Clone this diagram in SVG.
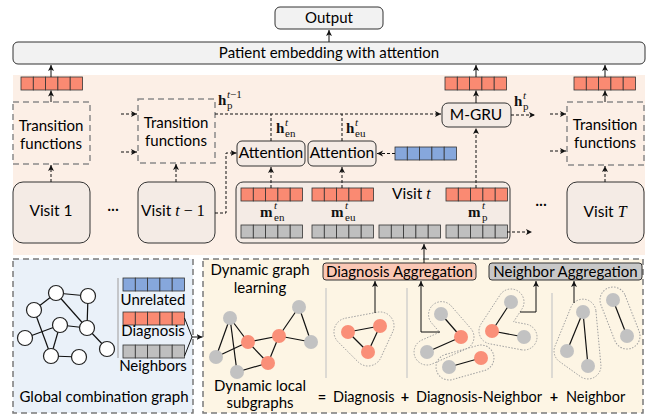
<svg xmlns="http://www.w3.org/2000/svg" width="654" height="418" viewBox="0 0 654 418">
<defs>
<style>
.lbl{font-family:Lato,'Liberation Sans','DejaVu Sans',sans-serif;font-size:15px;fill:#000}
.big{font-size:15.5px}
.mid{text-anchor:middle}
.mb{font-family:'Liberation Serif','DejaVu Serif',serif;font-weight:bold;font-size:15px;fill:#111}
.ms{font-family:'Liberation Serif','DejaVu Serif',serif;font-size:11px;fill:#111}
.mi{font-family:'Liberation Serif','DejaVu Serif',serif;font-style:italic}
.box{fill:#f2f2f2;stroke:#333;stroke-width:1}
.pbox{fill:#f4ebe5;stroke:#333;stroke-width:1}
.tbox{fill:none;stroke:#8a8a8a;stroke-width:1.5;stroke-dasharray:6 4}
.cr{fill:#fa8a72;stroke:#333;stroke-width:0.8}
.cb{fill:#86a7dc;stroke:#333;stroke-width:0.8}
.cg{fill:#bfbfbf;stroke:#333;stroke-width:0.8}
.a{fill:none;stroke:#111;stroke-width:1;marker-end:url(#ah)}
.d{fill:none;stroke:#111;stroke-width:1;stroke-dasharray:3 2}
.da{fill:none;stroke:#111;stroke-width:1;stroke-dasharray:3 2;marker-end:url(#ah)}
.sep{stroke:#c8c8c8;stroke-width:1.2}
.hull{fill:none;stroke:#a0a0a0;stroke-width:1;stroke-dasharray:1.5 1.5}
.nr{fill:#fa8f78}
.ng{fill:#c2c2c2}
.nw{fill:#fff;stroke:#222;stroke-width:1.2}
.e{stroke:#111;stroke-width:1.2}
.eq{font-size:14.5px}
</style>
<marker id="ah" markerWidth="7" markerHeight="7" refX="6" refY="3.5" orient="auto" markerUnits="userSpaceOnUse"><path d="M0,0.5 L6,3.5 L0,6.5 L1.5,3.5 Z" fill="#111"/></marker>
<g id="vr"><rect class="cr" x="0" y="0" width="12.3" height="13"/><rect class="cr" x="12.3" y="0" width="12.3" height="13"/><rect class="cr" x="24.6" y="0" width="12.3" height="13"/><rect class="cr" x="36.9" y="0" width="12.3" height="13"/><rect class="cr" x="49.2" y="0" width="12.3" height="13"/></g>
<g id="vb"><rect class="cb" x="0" y="0" width="12.3" height="13"/><rect class="cb" x="12.3" y="0" width="12.3" height="13"/><rect class="cb" x="24.6" y="0" width="12.3" height="13"/><rect class="cb" x="36.9" y="0" width="12.3" height="13"/><rect class="cb" x="49.2" y="0" width="12.3" height="13"/></g>
<g id="vg"><rect class="cg" x="0" y="0" width="12.3" height="13"/><rect class="cg" x="12.3" y="0" width="12.3" height="13"/><rect class="cg" x="24.6" y="0" width="12.3" height="13"/><rect class="cg" x="36.9" y="0" width="12.3" height="13"/><rect class="cg" x="49.2" y="0" width="12.3" height="13"/></g>
</defs>

<rect width="654" height="418" fill="#ffffff"/>
<rect id="temporal-bg" x="13" y="75" width="632" height="180" fill="#fcefe6"/>

<g id="output"><rect class="box" x="275" y="7" width="108" height="22" rx="5"/><text class="lbl mid" x="329" y="23">Output</text></g>
<g id="patient-embedding"><rect class="box" x="13" y="42" width="632" height="22" rx="5"/><text class="lbl mid" x="329" y="58">Patient embedding with attention</text></g>

<g id="vec-top-1"><use href="#vr" x="21" y="77"/></g>
<g id="vec-top-2"><use href="#vr" x="445" y="77"/></g>
<g id="vec-top-3"><use href="#vr" x="574" y="77"/></g>

<g id="transition-1"><rect class="tbox" x="13" y="102" width="77" height="62"/><text class="lbl mid" x="51" y="131">Transition</text><text class="lbl mid" x="51" y="149">functions</text></g>
<g id="transition-2"><rect class="tbox" x="138" y="99" width="77" height="64"/><text class="lbl mid" x="176" y="128">Transition</text><text class="lbl mid" x="176" y="146">functions</text></g>
<g id="transition-T"><rect class="tbox" x="567" y="102" width="77" height="63"/><text class="lbl mid" x="605" y="130">Transition</text><text class="lbl mid" x="605" y="148">functions</text></g>

<g id="visit-1"><rect class="pbox" x="13" y="182" width="77" height="61" rx="10"/><text class="lbl big mid" x="51" y="216">Visit 1</text></g>
<text class="lbl mid" x="113" y="214">···</text>
<g id="visit-t-1"><rect class="pbox" x="138" y="182" width="77" height="61" rx="10"/><text class="lbl big" x="141" y="216">Visit <tspan class="mi" font-size="16">t</tspan><tspan font-family="'Liberation Serif',serif" font-size="16"> − 1</tspan></text></g>

<g id="attention-en"><rect class="pbox" x="237" y="141" width="68" height="25" rx="5"/><text class="lbl big mid" x="271" y="158">Attention</text></g>
<g id="attention-eu"><rect class="pbox" x="308" y="141" width="68" height="25" rx="5"/><text class="lbl big mid" x="342" y="158">Attention</text></g>
<g id="vec-unrelated"><use href="#vb" x="395" y="147"/></g>
<g id="mgru"><rect class="pbox" x="442" y="103" width="69" height="24" rx="6"/><text class="lbl big mid" x="476" y="120">M-GRU</text></g>

<g id="visit-t">
<rect class="pbox" x="236" y="182" width="274" height="61" rx="7"/>
<use href="#vr" x="241" y="188"/><use href="#vr" x="312" y="188"/><use href="#vr" x="446" y="188"/>
<use href="#vg" x="241" y="225"/><use href="#vg" x="312" y="225"/><use href="#vg" x="379" y="225"/><use href="#vg" x="446" y="225"/>
<text class="lbl big" x="392" y="199">Visit <tspan class="mi" font-size="16">t</tspan></text>
<text class="mb" x="260" y="217">m</text><text class="ms" x="274" y="209" font-style="italic">t</text><text class="ms" x="274" y="221">en</text>
<text class="mb" x="331" y="217">m</text><text class="ms" x="345" y="209" font-style="italic">t</text><text class="ms" x="345" y="221">eu</text>
<text class="mb" x="468" y="217">m</text><text class="ms" x="482" y="209" font-style="italic">t</text><text class="ms" x="482" y="221">p</text>
</g>
<text class="lbl mid" x="541" y="209">···</text>
<g id="visit-T"><rect class="pbox" x="567" y="182" width="77" height="61" rx="10"/><text class="lbl big mid" x="605" y="217">Visit <tspan class="mi" font-size="16">T</tspan></text></g>

<g id="labels">
<text class="mb" x="218" y="105">h</text><text class="ms" x="227" y="98"><tspan font-style="italic">t</tspan>−1</text><text class="ms" x="227" y="109">p</text>
<text class="mb" x="276" y="133">h</text><text class="ms" x="285" y="126" font-style="italic">t</text><text class="ms" x="285" y="137">en</text>
<text class="mb" x="346" y="133">h</text><text class="ms" x="355" y="126" font-style="italic">t</text><text class="ms" x="355" y="137">eu</text>
<text class="mb" x="514" y="106">h</text><text class="ms" x="523" y="99" font-style="italic">t</text><text class="ms" x="523" y="110">p</text>
</g>

<g id="global-graph-panel">
<rect x="13" y="259" width="180" height="154" fill="#eaf1f9" stroke="#7a7a7a" stroke-width="1.5" stroke-dasharray="6 4"/>
<g id="global-graph">
<line class="e" x1="56" y1="293" x2="34" y2="310"/>
<line class="e" x1="56" y1="293" x2="88" y2="296"/>
<line class="e" x1="56" y1="293" x2="87" y2="328"/>
<line class="e" x1="88" y1="296" x2="87" y2="328"/>
<line class="e" x1="34" y1="310" x2="51" y2="356"/>
<line class="e" x1="60" y1="325" x2="87" y2="328"/>
<line class="e" x1="60" y1="325" x2="25" y2="338"/>
<line class="e" x1="60" y1="325" x2="51" y2="356"/>
<line class="e" x1="87" y1="328" x2="107" y2="349"/>
<line class="e" x1="51" y1="356" x2="79" y2="357"/>
<circle class="nw" cx="56" cy="293" r="7.5"/><circle class="nw" cx="88" cy="296" r="7.5"/><circle class="nw" cx="34" cy="310" r="7.5"/>
<circle class="nw" cx="60" cy="325" r="7.5"/><circle class="nw" cx="87" cy="328" r="7.5"/><circle class="nw" cx="25" cy="338" r="7.5"/>
<circle class="nw" cx="107" cy="349" r="7.5"/><circle class="nw" cx="51" cy="356" r="7.5"/><circle class="nw" cx="79" cy="357" r="7.5"/>
</g>
<line x1="118" y1="278" x2="118" y2="358" stroke="#aaa" stroke-width="1.2"/>
<use href="#vb" x="123" y="278"/>
<text class="lbl mid" x="153" y="305">Unrelated</text>
<use href="#vr" x="123" y="312"/>
<text class="lbl mid" x="153" y="336">Diagnosis</text>
<use href="#vg" x="123" y="345"/>
<text class="lbl mid" x="153" y="371">Neighbors</text>
<text class="lbl mid" x="104" y="402">Global combination graph</text>
</g>

<g id="subgraph-panel">
<rect x="203" y="259" width="440" height="154" fill="#fdf5e4" stroke="#7a7a7a" stroke-width="1.5" stroke-dasharray="6 4"/>
<text class="lbl mid" x="260" y="275">Dynamic graph</text>
<text class="lbl mid" x="260" y="293">learning</text>
<g id="dynamic-graph">
<line class="e" x1="230" y1="318" x2="216" y2="357"/>
<line class="e" x1="230" y1="318" x2="237" y2="372"/>
<line class="e" x1="230" y1="318" x2="248" y2="342"/>
<line class="e" x1="216" y1="357" x2="248" y2="342"/>
<line class="e" x1="248" y1="342" x2="279" y2="336"/>
<line class="e" x1="248" y1="342" x2="268" y2="363"/>
<line class="e" x1="268" y1="363" x2="279" y2="336"/>
<line class="e" x1="268" y1="363" x2="237" y2="372"/>
<line class="e" x1="279" y1="336" x2="299" y2="307"/>
<line class="e" x1="279" y1="336" x2="311" y2="342"/>
<line class="e" x1="299" y1="307" x2="311" y2="342"/>
<circle class="ng" cx="230" cy="318" r="7"/><circle class="ng" cx="299" cy="307" r="7"/><circle class="ng" cx="311" cy="342" r="7"/>
<circle class="ng" cx="216" cy="357" r="7"/><circle class="ng" cx="237" cy="372" r="7"/>
<circle class="nr" cx="248" cy="342" r="7"/><circle class="nr" cx="279" cy="336" r="7"/><circle class="nr" cx="268" cy="363" r="7"/>
</g>
<text class="lbl mid" x="260" y="391">Dynamic local</text>
<text class="lbl mid" x="260" y="408">subgraphs</text>
<line class="sep" x1="326" y1="288" x2="326" y2="378"/>
<line class="sep" x1="407" y1="288" x2="407" y2="378"/>
<line class="sep" x1="552" y1="293" x2="552" y2="378"/>
</g>

<g id="diagnosis-aggregation"><rect x="323" y="263" width="153" height="17" rx="3" fill="#fbc8b5" stroke="#333" stroke-width="1"/><text class="lbl mid" x="399.5" y="277" font-size="14.5">Diagnosis Aggregation</text></g>
<g id="neighbor-aggregation"><rect x="489" y="263" width="153" height="17" rx="3" fill="#c8c8c8" stroke="#333" stroke-width="1"/><text class="lbl mid" x="565.5" y="277" font-size="14.5">Neighbor Aggregation</text></g>

<g id="subgraph-diagnosis">
<path class="hull" d="M345.4,318.2 L377.4,312.2 A14,14 0 0 1 392.7,331.9 L380.7,357.9 A14,14 0 0 1 358.1,361.9 L338.1,341.9 A14,14 0 0 1 345.4,318.2 Z"/>
<line class="e" x1="348" y1="332" x2="380" y2="326"/><line class="e" x1="380" y1="326" x2="368" y2="352"/><line class="e" x1="368" y1="352" x2="348" y2="332"/>
<circle class="nr" cx="348" cy="332" r="7"/><circle class="nr" cx="380" cy="326" r="7"/><circle class="nr" cx="368" cy="352" r="7"/>
</g>
<g id="subgraph-dn-1">
<path class="hull" d="M450.8,305.5 L470.8,328.5 A13,13 0 0 1 466.3,348.9 L432.3,363.9 A13,13 0 0 1 421.8,340.1 L439.6,332.2 L431.2,322.5 A13,13 0 0 1 450.8,305.5 Z"/>
<line class="e" x1="441" y1="314" x2="461" y2="337"/><line class="e" x1="461" y1="337" x2="427" y2="352"/>
<circle class="ng" cx="441" cy="314" r="7"/><circle class="nr" cx="461" cy="337" r="7"/><circle class="ng" cx="427" cy="352" r="7"/>
</g>
<g id="subgraph-dn-2">
<rect class="hull" x="-29.6" y="-13" width="59.2" height="26" rx="13" transform="translate(465 362.5) rotate(-15.7)"/>
<line class="e" x1="449" y1="367" x2="481" y2="358"/>
<circle class="ng" cx="449" cy="367" r="7"/><circle class="nr" cx="481" cy="358" r="7"/>
</g>
<g id="subgraph-dn-3">
<path class="hull" d="M521.6,349.8 L489.6,343.8 A13,13 0 0 1 481.1,323.9 L500.1,294.9 A13,13 0 0 1 521.9,309.1 L513.6,321.8 L526.4,324.2 A13,13 0 0 1 521.6,349.8 Z"/>
<line class="e" x1="511" y1="302" x2="492" y2="331"/><line class="e" x1="492" y1="331" x2="524" y2="337"/>
<circle class="ng" cx="511" cy="302" r="7"/><circle class="nr" cx="492" cy="331" r="7"/><circle class="ng" cx="524" cy="337" r="7"/>
</g>
<g id="subgraph-n-1">
<path class="hull" d="M595.9,310.8 L600.9,364.8 A13,13 0 0 1 580.5,376.6 L559.5,361.6 A13,13 0 0 1 555,346.1 L571,307.1 A13,13 0 0 1 595.9,310.8 Z"/>
<line class="e" x1="583" y1="312" x2="567" y2="351"/><line class="e" x1="583" y1="312" x2="588" y2="366"/>
<circle class="ng" cx="583" cy="312" r="7"/><circle class="ng" cx="567" cy="351" r="7"/><circle class="ng" cx="588" cy="366" r="7"/>
</g>
<g id="subgraph-n-2">
<rect class="hull" x="-32.3" y="-13" width="64.6" height="26" rx="13" transform="translate(620 318) rotate(68.7)"/>
<line class="e" x1="613" y1="300" x2="627" y2="336"/>
<circle class="ng" cx="613" cy="300" r="7"/><circle class="ng" cx="627" cy="336" r="7"/>
</g>

<g id="equation">
<text class="lbl eq mid" x="322" y="402" font-weight="bold">=</text>
<text class="lbl eq" x="333" y="402">Diagnosis</text>
<text class="lbl eq mid" x="405" y="402" font-weight="bold">+</text>
<text class="lbl eq" x="416" y="402">Diagnosis-Neighbor</text>
<text class="lbl eq mid" x="554" y="402" font-weight="bold">+</text>
<text class="lbl eq" x="566" y="402">Neighbor</text>
</g>

<g id="connectors">
<line class="a" x1="329" y1="42" x2="329" y2="30"/>
<line class="a" x1="51" y1="77" x2="51" y2="65"/>
<line class="a" x1="476" y1="77" x2="476" y2="65"/>
<line class="a" x1="605" y1="77" x2="605" y2="65"/>
<line class="a" x1="51" y1="102" x2="51" y2="90.5"/>
<line class="a" x1="605" y1="102" x2="605" y2="90.5"/>
<line class="a" x1="476" y1="103" x2="476" y2="90.5"/>
<line class="da" x1="51" y1="182" x2="51" y2="165"/>
<line class="da" x1="176" y1="182" x2="176" y2="164"/>
<line class="da" x1="605" y1="182" x2="605" y2="166"/>
<line class="da" x1="121" y1="114" x2="137" y2="114"/>
<line class="da" x1="121" y1="152" x2="137" y2="152"/>
<line class="da" x1="550" y1="114" x2="566" y2="114"/>
<line class="da" x1="550" y1="151" x2="566" y2="151"/>
<line class="da" x1="511" y1="115" x2="535" y2="115"/>
<path class="da" d="M215,114 H441"/>
<line class="d" x1="271" y1="141" x2="271" y2="114"/>
<line class="d" x1="342" y1="141" x2="342" y2="114"/>
<line class="da" x1="271" y1="188" x2="271" y2="167"/>
<line class="da" x1="342" y1="188" x2="342" y2="167"/>
<line class="da" x1="395" y1="153.5" x2="377" y2="153.5"/>
<path class="da" d="M215,213 H226 V153 H236.5"/>
<line class="da" x1="476" y1="188" x2="476" y2="128"/>
<line class="da" x1="507" y1="232" x2="532" y2="232"/>
<line class="a" x1="424" y1="263" x2="424" y2="244"/>
<polyline fill="none" stroke="#111" stroke-width="1" points="184.5,318 192,337 184.5,356"/>
<line class="a" x1="192" y1="337" x2="202.5" y2="337"/>
<line class="a" x1="375" y1="313" x2="375" y2="281"/>
<path class="a" d="M440,332 H421 V281"/>
<path class="a" d="M520,312 H536 V281"/>
<line class="a" x1="574" y1="303" x2="574" y2="281"/>
</g>
</svg>
